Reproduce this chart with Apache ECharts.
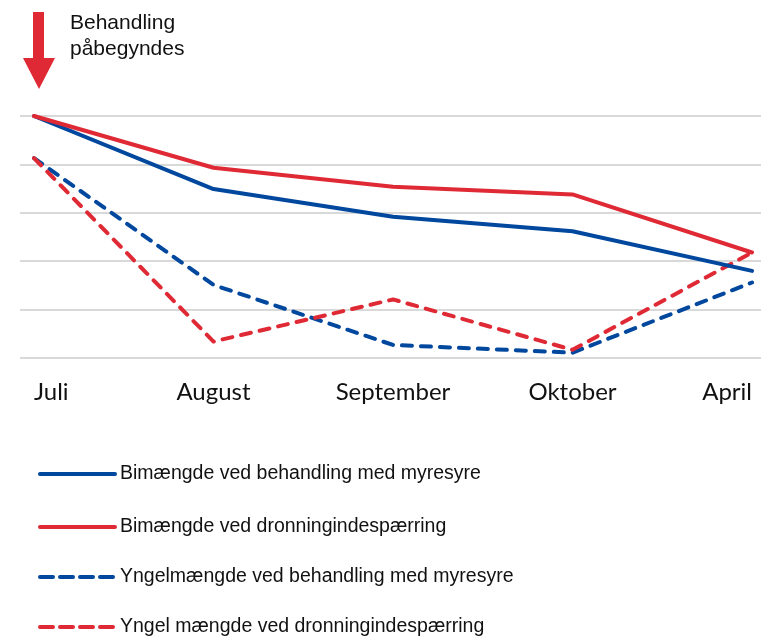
<!DOCTYPE html>
<html><head><meta charset="utf-8">
<script src="https://cdn.jsdelivr.net/npm/echarts@6/dist/echarts.min.js"></script>
<style>html,body{margin:0;padding:0;background:#fff}#c{width:761px;height:639px}</style>
</head><body><div id="c"></div>
<script>
const categories = ['Juli', 'August', 'September', 'Oktober', 'April'];
const seriesNames = [
  'Bimængde ved behandling med myresyre',
  'Bimængde ved dronningindespærring',
  'Yngelmængde ved behandling med myresyre',
  'Yngel mængde ved dronningindespærring'
];
const bimMyresyre = [5.0, 3.49, 2.92, 2.62, 1.80];
const bimDronning = [5.0, 3.93, 3.54, 3.38, 2.18];
const yngelMyresyre = [4.13, 1.51, 0.27, 0.11, 1.56];
const yngelDronning = [4.13, 0.34, 1.21, 0.17, 2.18];
const annotation = 'Behandling\npåbegyndes';

const BLUE = '#00479E', RED = '#DF2A35';
const DASH = [10, 9];
const chart = echarts.init(document.getElementById('c'));
function mk(name, data, color, dashed) {
  return {
    name, type: 'line', data, xAxisIndex: 1, yAxisIndex: 1,
    symbol: 'none', showSymbol: false, smooth: false, z: dashed ? 3 : 4,
    lineStyle: { color, width: 4, type: dashed ? DASH : 'solid', cap: 'round', join: 'round' },
    itemStyle: { color }
  };
}
const legendTops = [458, 511, 561, 611];
const legends = seriesNames.map((n, i) => ({
  orient: 'vertical', left: 33, top: legendTops[i], itemWidth: 75, itemHeight: 14,
  textStyle: { fontFamily: 'Liberation Sans', fontSize: 19.5, color: '#111', lineHeight: 22, padding: [0, 0, 0, 0] },
  itemStyle: { opacity: 0 },
  lineStyle: { width: 4, cap: 'round', type: i >= 2 ? [13, 7] : 'solid' },
  data: [n]
}));
chart.setOption({
  animation: false,
  grid: [
    { left: 20, right: 0, top: 116, bottom: 281 },
    { left: 34, right: 9, top: 116, bottom: 281 }
  ],
  xAxis: [
    { type: 'value', gridIndex: 0, min: 0, max: 1, show: false },
    { type: 'category', gridIndex: 1, data: categories, boundaryGap: false,
      axisLine: { show: false }, axisTick: { show: false }, splitLine: { show: false },
      axisLabel: { fontFamily: 'Lato', fontSize: 24, color: '#111', margin: 22,
        alignMinLabel: 'left', alignMaxLabel: 'right' } }
  ],
  yAxis: [
    { type: 'value', gridIndex: 0, min: 0, max: 5, interval: 1,
      axisLine: { show: false }, axisTick: { show: false }, axisLabel: { show: false },
      splitLine: { show: true, lineStyle: { color: '#d9d9d9', width: 2 } } },
    { type: 'value', gridIndex: 1, min: 0, max: 5, interval: 1, show: false,
      splitLine: { show: false } }
  ],
  legend: legends,
  graphic: [
    { type: 'polygon', shape: { points: [[33,12],[44,12],[44,58],[55,58],[39,89],[23,58],[33,58]] },
      style: { fill: RED } },
    { type: 'text', left: 70, top: 10,
      style: { text: annotation, font: '21px "Liberation Sans"', fill: '#111', lineHeight: 26 } }
  ],
  series: [
    mk(seriesNames[0], bimMyresyre, BLUE, false),
    mk(seriesNames[1], bimDronning, RED, false),
    mk(seriesNames[2], yngelMyresyre, BLUE, true),
    mk(seriesNames[3], yngelDronning, RED, true)
  ]
});
</script></body></html>
